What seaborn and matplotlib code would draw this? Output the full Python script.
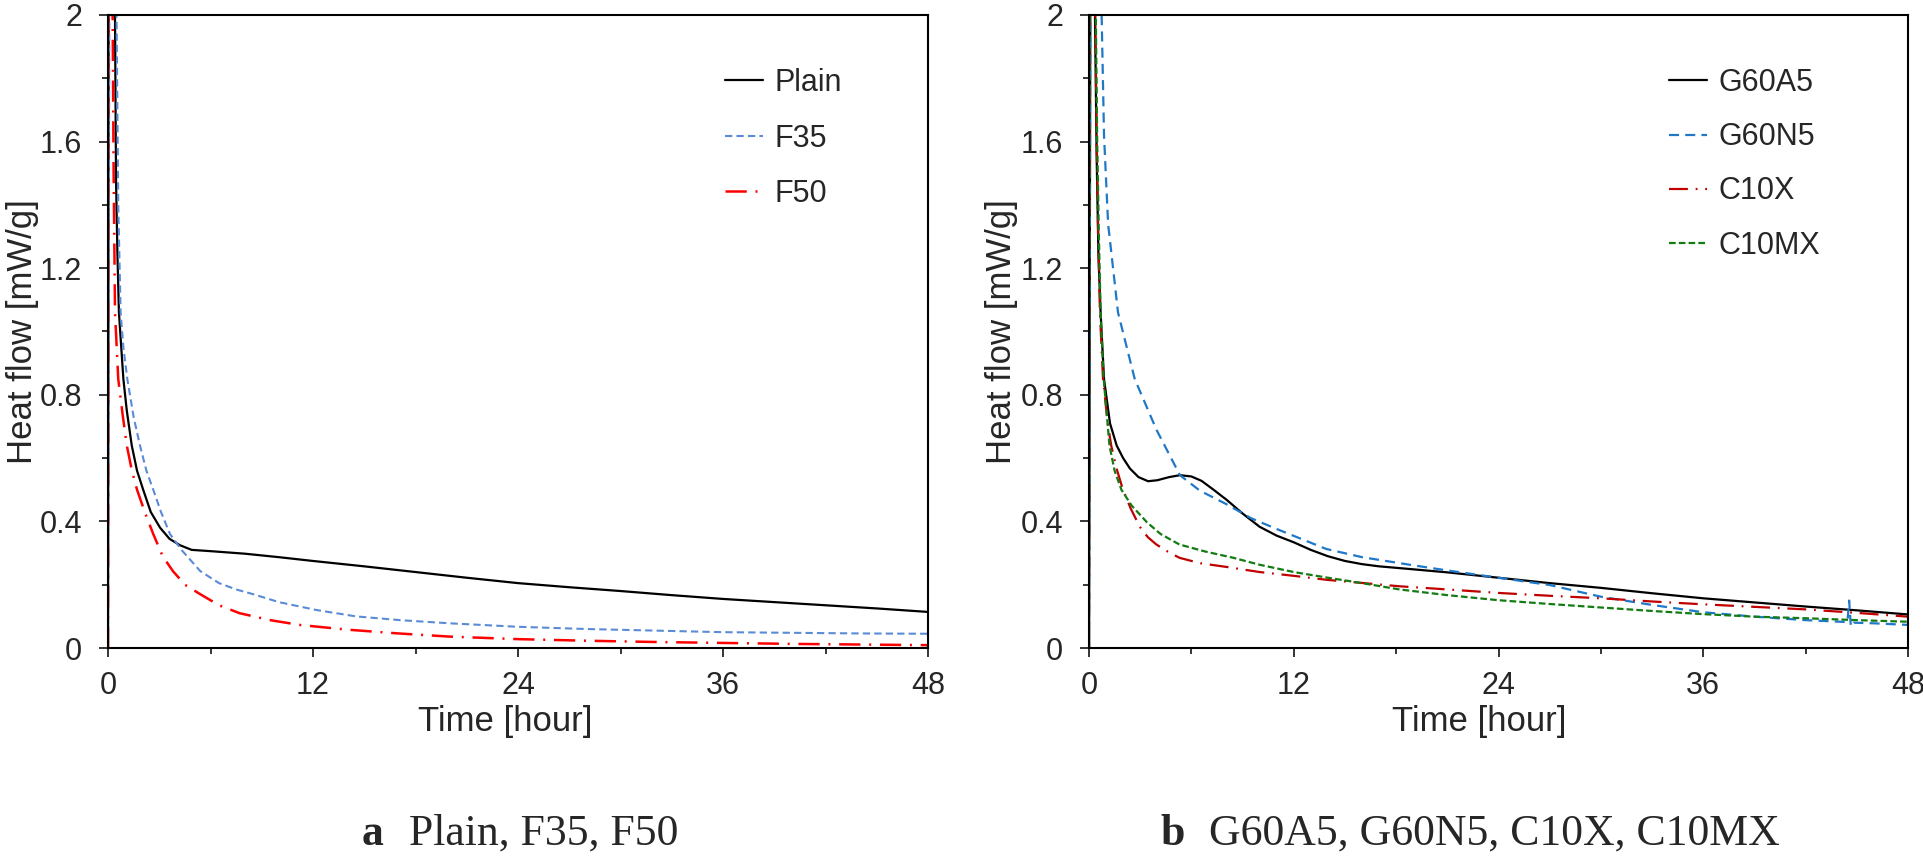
import matplotlib
matplotlib.use('Agg')
import matplotlib.pyplot as plt
import seaborn as sns
from matplotlib.ticker import MultipleLocator, FuncFormatter

sns.set_style('ticks')
plt.rcParams['font.family'] = ['Liberation Sans', 'DejaVu Sans']

# ==================== data (a): Plain, F35, F50 ====================
plain_t = [0, 0.05, 0.35, 0.41, 0.47, 0.55, 0.64, 0.9, 1.1, 1.39, 1.7, 2.06, 2.5, 3.05,
           3.6, 4.2, 4.9, 6, 8, 10, 12, 15, 18, 21, 24, 27, 30, 33, 36, 39, 42, 45, 48]
plain_v = [0, 2.6, 2.6, 2.0, 1.48, 1.25, 1.06, 0.85, 0.75, 0.64, 0.56, 0.50, 0.43, 0.38,
           0.345, 0.325, 0.31, 0.306, 0.298, 0.287, 0.275, 0.258, 0.24, 0.222, 0.205,
           0.192, 0.18, 0.167, 0.155, 0.145, 0.135, 0.125, 0.114]

f35_t = [0, 0.1, 0.4, 0.5, 0.6, 0.74, 0.9, 1.13, 1.5, 1.87, 2.25, 2.65, 3.1, 3.63, 4.3,
         5.4, 6.5, 7.5, 8.5, 10, 12.2, 14.5, 17.1, 20, 24, 28, 32, 36, 40, 44, 48]
f35_v = [0, 2.6, 2.6, 2.0, 1.4, 1.06, 0.95, 0.85, 0.73, 0.64, 0.56, 0.5, 0.43, 0.36, 0.31,
         0.243, 0.205, 0.185, 0.17, 0.145, 0.12, 0.10, 0.088, 0.078, 0.067, 0.06, 0.055,
         0.05, 0.048, 0.046, 0.045]

f50_t = [0, 0.02, 0.2, 0.27, 0.33, 0.41, 0.6, 0.85, 1.1, 1.4, 1.7, 2.15, 2.65, 3.2, 3.8,
         4.5, 5.4, 6.5, 7.7, 9.5, 11.2, 14, 17, 20, 24, 28, 32, 36, 40, 44, 48]
f50_v = [0, 2.6, 2.6, 2.0, 1.5, 1.06, 0.85, 0.74, 0.64, 0.56, 0.5, 0.43, 0.36, 0.29, 0.243,
         0.2, 0.17, 0.135, 0.11, 0.088, 0.073, 0.058, 0.046, 0.036, 0.028, 0.023, 0.019,
         0.016, 0.013, 0.011, 0.009]

# ==================== data (b): G60A5, G60N5, C10X, C10MX ====================
g60a5_t = [0, 0.1, 0.3, 0.35, 0.45, 0.55, 0.68, 0.88, 1.23, 1.62, 2.0, 2.4, 2.9, 3.46, 4.0,
           4.7, 5.33, 6.0, 6.6, 7.3, 8.07, 9.0, 10.0, 11.0, 12.0, 13.0, 14.0, 15.0, 16.0,
           17.0, 18.5, 21, 24, 27, 30, 33, 36, 39, 42, 45, 48]
g60a5_v = [0, 2.6, 2.6, 2.0, 1.55, 1.25, 1.06, 0.85, 0.71, 0.64, 0.60, 0.567, 0.54, 0.527,
           0.53, 0.54, 0.546, 0.542, 0.528, 0.50, 0.468, 0.425, 0.383, 0.355, 0.334, 0.31,
           0.29, 0.275, 0.265, 0.258, 0.251, 0.239, 0.222, 0.205, 0.19, 0.173, 0.157, 0.144,
           0.131, 0.119, 0.106]

g60n5_t = [0, 0.1, 0.65, 0.74, 0.88, 1.12, 1.7, 2.68, 3.95, 5.33, 6.5, 8.07, 9.5, 11.0, 13.9,
           16, 18.8, 21, 24, 27, 30, 33, 36, 39, 42, 44.45, 44.55, 44.65, 44.8, 46, 48]
g60n5_v = [0, 2.6, 2.6, 2.0, 1.62, 1.34, 1.06, 0.85, 0.69, 0.546, 0.497, 0.454, 0.41, 0.376,
           0.313, 0.287, 0.263, 0.245, 0.222, 0.199, 0.162, 0.136, 0.113, 0.099, 0.088,
           0.082, 0.15, 0.068, 0.08, 0.078, 0.073]

c10x_t = [0, 0.05, 0.3, 0.37, 0.45, 0.54, 0.64, 0.82, 1.1, 1.3, 1.6, 1.99, 2.45, 2.98, 3.45,
          3.95, 4.6, 5.3, 6.5, 8.07, 10, 12, 14, 15.9, 18.2, 21, 24, 27, 30, 33, 36, 39, 42,
          45, 48]
c10x_v = [0, 2.6, 2.6, 2.0, 1.6, 1.3, 1.06, 0.85, 0.71, 0.64, 0.57, 0.5, 0.44, 0.383, 0.35,
          0.327, 0.305, 0.285, 0.268, 0.256, 0.24, 0.228, 0.215, 0.206, 0.195, 0.185, 0.174,
          0.165, 0.157, 0.147, 0.138, 0.13, 0.122, 0.111, 0.099]

c10mx_t = [0, 0.05, 0.32, 0.4, 0.48, 0.58, 0.68, 0.86, 1.2, 1.5, 1.9, 2.5, 3.4, 4.2, 5.3,
           6.8, 8.46, 10, 12, 14, 16, 18.2, 21, 24, 27, 30, 33, 36, 39, 42, 45, 48]
c10mx_v = [0, 2.6, 2.6, 2.0, 1.6, 1.3, 1.06, 0.85, 0.64, 0.56, 0.5, 0.45, 0.397, 0.36, 0.327,
           0.305, 0.285, 0.263, 0.24, 0.222, 0.205, 0.185, 0.167, 0.151, 0.139, 0.128, 0.117,
           0.107, 0.099, 0.094, 0.088, 0.083]

labels_a = ['Plain', 'F35', 'F50']
labels_b = ['G60A5', 'G60N5', 'C10X', 'C10MX']
caption_a = ('a', 'Plain, F35, F50')
caption_b = ('b', 'G60A5, G60N5, C10X, C10MX')

# series: (t, v, label, color, linestyle, linewidth)
series_a = [
    (plain_t, plain_v, labels_a[0], '#000000', '-', 1.6),
    (f35_t, f35_v, labels_a[1], '#5B8BD6', (0, (3.5, 2)), 1.5),
    (f50_t, f50_v, labels_a[2], '#FF0000', (0, (8.5, 3.5, 0.8, 3.5)), 1.8),
]
series_b = [
    (g60a5_t, g60a5_v, labels_b[0], '#000000', '-', 1.6),
    (g60n5_t, g60n5_v, labels_b[1], '#1F78C8', (0, (4.5, 2.8)), 1.6),
    (c10x_t, c10x_v, labels_b[2], '#C00000', (0, (8.5, 3.5, 0.8, 3.5)), 1.6),
    (c10mx_t, c10mx_v, labels_b[3], '#127C12', (0, (3, 1.4)), 1.6),
]

W, H = 1923, 856
fig = plt.figure(figsize=(W / 100, H / 100), dpi=100)
ax1 = fig.add_axes([108 / W, 1 - 648 / H, 820 / W, 633 / H])
ax2 = fig.add_axes([1089 / W, 1 - 648 / H, 819 / W, 633 / H])


def style_axes(ax, series, leg_x, xlab_x, ylab_x, spacing):
    for t, v, lab, col, ls, lw in series:
        sns.lineplot(x=t, y=v, ax=ax, color=col, linestyle=ls, lw=lw, label=lab,
                     estimator=None, sort=False)
    ax.set_xlim(0, 48)
    ax.set_ylim(0, 2)
    ax.xaxis.set_major_locator(MultipleLocator(12))
    ax.xaxis.set_minor_locator(MultipleLocator(6))
    ax.yaxis.set_major_locator(MultipleLocator(0.4))
    ax.yaxis.set_minor_locator(MultipleLocator(0.2))
    ax.yaxis.set_major_formatter(FuncFormatter(lambda v, p: f'{v:g}'))
    ax.tick_params(which='major', length=6.5, width=1.1, labelsize=22, color='black')
    ax.tick_params(which='minor', length=4.5, width=1.1, color='black')
    ax.tick_params(axis='x', which='major', pad=10)
    ax.tick_params(axis='y', which='major', pad=12)
    for s in ax.spines.values():
        s.set_visible(True)
        s.set_linewidth(1.5)
        s.set_color('black')
    ax.set_xlabel('Time [hour]', fontsize=25)
    ax.set_ylabel('Heat flow [mW/g]', fontsize=25)
    ax.xaxis.set_label_coords(xlab_x, -0.09)
    ax.yaxis.set_label_coords(ylab_x, 0.5)
    ax.legend(loc='upper left', bbox_to_anchor=(leg_x, 0.916), frameon=False,
              fontsize=22, handlelength=1.24, handletextpad=0.39,
              labelspacing=spacing, borderpad=0, borderaxespad=0)


style_axes(ax1, series_a, (725 - 108) / 820, 0.485, -0.084, 0.83)
style_axes(ax2, series_b, (1669 - 1089) / 819, 0.477, -0.087, 0.79)


def caption(x, y, parts):
    serif = ['Liberation Serif', 'DejaVu Serif']
    t1 = fig.text(x, y, parts[0], fontsize=31.5, fontweight='bold', va='baseline',
                  family=serif)
    fig.canvas.draw()
    bb = t1.get_window_extent()
    fig.text((bb.x1 + 25) / W, y, parts[1], fontsize=31.5, va='baseline', family=serif)


caption(362 / W, 11 / H, caption_a)
caption(1160 / W, 11 / H, caption_b)

fig.savefig('out.png', dpi=100)
